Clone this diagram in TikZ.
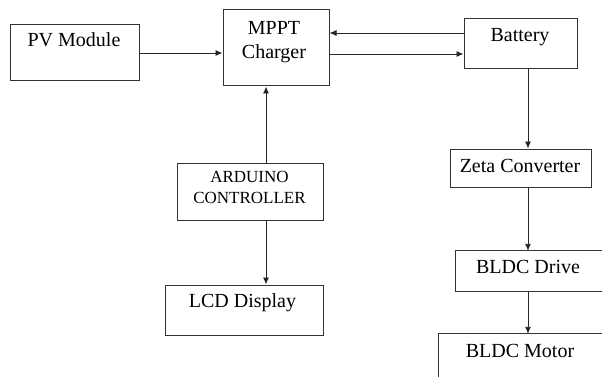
\documentclass[tikz,border=0pt]{standalone}
\usepackage{fontspec}
\setmainfont{Liberation Serif}
\usetikzlibrary{arrows.meta}
\tikzset{
  blk/.style={draw=black!80, line width=1pt, inner sep=0pt},
  open/.style={inner sep=0pt},
  edge/.style={draw=black!80, line width=1pt},
  lbl/.style={inner sep=0pt, font=\fontsize{20}{24}\selectfont},
  sml/.style={inner sep=0pt, align=center, font=\fontsize{17}{21}\selectfont},
  arr/.style={draw=black!85, line width=0.9pt, -{Latex[length=7pt,width=6pt]}}
}
\begin{document}
\begin{tikzpicture}[x=1pt, y=-1pt]
    \useasboundingbox (0,0) rectangle (602,377);
    % boxes
    \node[blk, minimum width=129pt, minimum height=56pt] (pv) at (74.5,53) {};
    \node[blk, minimum width=106pt, minimum height=76pt] (mppt) at (276,48) {};
    \node[blk, minimum width=113pt, minimum height=50pt] (bat) at (520.5,44) {};
    \node[blk, minimum width=146pt, minimum height=57pt] (ard) at (250,191.5) {};
    \node[blk, minimum width=158pt, minimum height=50pt] (lcd) at (244,310) {};
    \node[blk, minimum width=141pt, minimum height=38pt] (zeta) at (520.5,168) {};
    % cut off at the right edge
    \node[open, minimum width=146pt, minimum height=40pt] (drv) at (529,271) {};
    \draw[edge] (drv.north east) -- (drv.north west) -- (drv.south west) -- (drv.south east);
    \node[open, minimum width=163pt, minimum height=50pt] (mot) at (520.5,359) {};
    \draw[edge] (mot.south west) -- (mot.north west) -- (mot.north east);
    % texts
    \node[lbl, anchor=base] (pv-t) at (74,47) {PV Module};
    \node[lbl, align=center, anchor=north] (mppt-t) at (274,21) {MPPT\\Charger};
    \node[lbl, anchor=base] (bat-t) at (520,42) {Battery};
    \node[sml, anchor=north] (ard-t) at (249.5,171) {ARDUINO\\CONTROLLER};
    \node[lbl, anchor=base] (lcd-t) at (242.5,307) {LCD Display};
    \node[lbl, anchor=base] (zeta-t) at (520,172) {Zeta Converter};
    \node[lbl, anchor=base] (drv-t) at (528,273) {BLDC Drive};
    \node[lbl, anchor=base] (mot-t) at (520,357) {BLDC Motor};
    % connectors
    \draw[arr] (pv.east) -- (pv.east -| mppt.west);
    \draw[arr] ([yshift=11pt]bat.west) -- ([yshift=11pt]bat.west -| mppt.east);
    \draw[arr] ([yshift=-10pt]mppt.east |- bat.west) -- ([yshift=-10pt]bat.west);
    \draw[arr] ([xshift=16pt]ard.north) -- ([xshift=16pt]ard.north |- mppt.south);
    \draw[arr] ([xshift=16pt]ard.south) -- ([xshift=16pt]ard.south |- lcd.north);
    \draw[arr] ([xshift=7.5pt]bat.south) -- ([xshift=7.5pt]bat.south |- zeta.north);
    \draw[arr] ([xshift=7.5pt]zeta.south) -- ([xshift=7.5pt]zeta.south |- drv.north);
    \draw[arr] ([xshift=7.5pt]zeta.south |- drv.south) -- ([xshift=7.5pt]zeta.south |- mot.north);
\end{tikzpicture}
\end{document}
